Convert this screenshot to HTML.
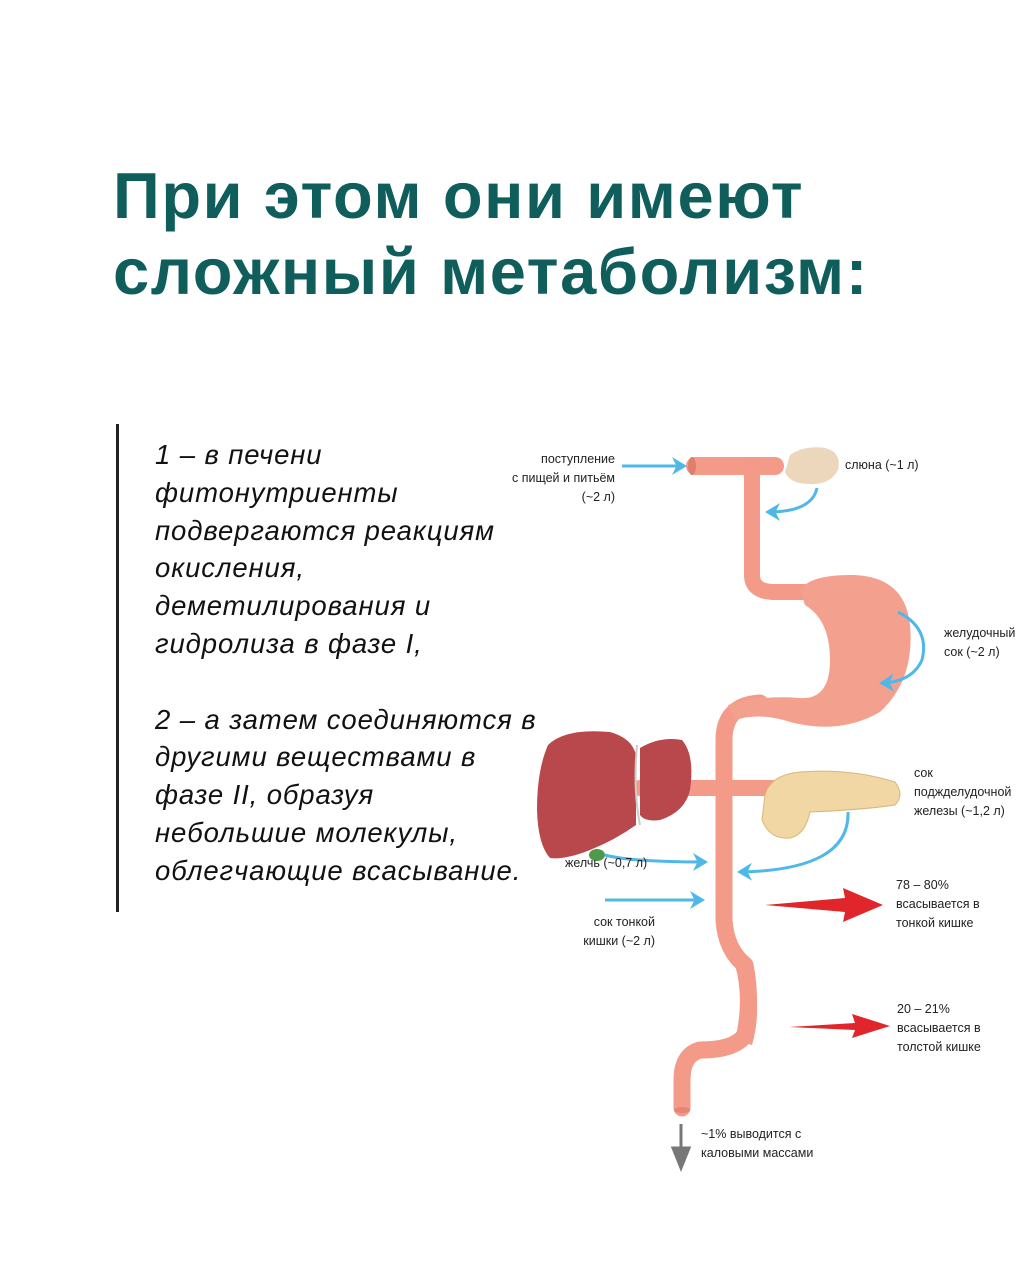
<!DOCTYPE html>
<html><head><meta charset="utf-8"><style>
html,body{margin:0;padding:0;background:#fff;}
body{width:1024px;height:1280px;position:relative;overflow:hidden;font-family:"Liberation Sans",sans-serif;}
h1{position:absolute;left:113px;top:158px;margin:0;font-size:65px;line-height:76px;font-weight:bold;color:#0f5e5c;letter-spacing:1.6px;}
.bar{position:absolute;left:116px;top:424px;width:3px;height:488px;background:#222;}
.txt{position:absolute;left:155px;top:436px;font-size:27.5px;line-height:37.8px;font-style:italic;color:#111;letter-spacing:0.9px;}
svg{position:absolute;left:0;top:0;}
svg text{font-family:"Liberation Sans",sans-serif;font-size:12.5px;fill:#222;}
</style></head><body>
<h1>При этом они имеют<br>сложный метаболизм:</h1>
<div class="bar"></div>
<div class="txt">1 – в печени<br>фитонутриенты<br>подвергаются реакциям<br>окисления,<br>деметилирования и<br>гидролиза в фазе I,<br><br>2 – а затем соединяются в<br>другими веществами в<br>фазе II, образуя<br>небольшие молекулы,<br>облегчающие всасывание.</div>
<svg width="1024" height="1280" viewBox="0 0 1024 1280">
<defs>
<marker id="bl" markerWidth="6" markerHeight="6" refX="4" refY="3" orient="auto" markerUnits="strokeWidth"><path d="M0,0 L5,3 L0,6 L1.5,3Z" fill="#4fb8e8"/></marker>
</defs>
<g fill="none" stroke="#f39a88" stroke-linecap="round" stroke-linejoin="round">
<path d="M695,466 H775" stroke-width="18"/>
<path d="M752,466 V575 Q752,592 775,592 H815" stroke-width="16"/>
<path d="M640,788 H790" stroke-width="16"/>
<path d="M760,703 Q724,705 724,740 V920 Q726,950 745,965 Q752,1000 745,1035 Q735,1050 700,1050 Q682,1055 682,1080 V1108" stroke-width="17"/>
</g>
<path d="M745,955 Q765,1000 752,1045 L735,1040 Q745,1000 735,965Z" fill="#f39a88"/>
<path d="M800,590 Q810,575 850,575 Q905,575 910,625 Q915,680 880,712 Q840,735 790,722 Q760,712 735,720 L728,705 Q760,695 800,698 Q830,700 830,660 Q830,620 805,605Z" fill="#f4a08e"/>
<ellipse cx="692" cy="466" rx="4" ry="9" fill="#e07e6c"/>
<ellipse cx="682" cy="1110" rx="8" ry="3" fill="#e58575"/>
<path d="M790,455 Q805,445 825,448 Q842,452 838,470 Q830,485 810,484 Q790,484 785,472Z" fill="#ecd6bc"/>
<path d="M548,745 Q565,728 610,732 Q632,738 636,755 L636,825 Q615,840 590,850 Q565,860 550,858 Q538,845 537,810 Q537,770 548,745Z" fill="#b8484c"/>
<path d="M640,748 Q660,736 682,740 Q695,755 690,790 Q685,812 660,820 Q645,822 640,815Z" fill="#b8484c"/>
<path d="M637,745 Q633,790 640,825" stroke="#ccc" stroke-width="2" fill="none"/>
<ellipse cx="597" cy="855" rx="8" ry="6" fill="#4c9a4a"/>
<path d="M765,795 Q770,775 800,772 Q850,768 895,782 Q905,795 895,805 Q860,810 810,812 Q805,835 790,838 Q770,840 762,820Z" fill="#f0d7a4" stroke="#d9b677" stroke-width="1"/>
<g stroke="#4fb8e8" stroke-width="3" fill="none" marker-end="url(#bl)">
<path d="M622,466 H684"/>
<path d="M817,488 Q812,512 768,512"/>
<path d="M898,612 Q930,628 922,660 Q912,682 882,683"/>
<path d="M605,855 Q630,862 705,862"/>
<path d="M848,812 Q850,870 740,872"/>
<path d="M605,900 H702"/>
</g>
<path d="M765,905 L845,898 L843,888 L883,905 L843,922 L845,912Z" fill="#e0262a"/>
<path d="M789,1027 L855,1023 L852,1014 L890,1026 L852,1038 L855,1030Z" fill="#e0262a"/>
<path d="M681,1124 V1150 M673,1148 L681,1168 L689,1148Z" stroke="#777" stroke-width="3" fill="#777"/>
<text x="615" y="463" text-anchor="end">поступление</text>
<text x="615" y="482" text-anchor="end">с пищей и питьём</text>
<text x="615" y="501" text-anchor="end">(~2 л)</text>
<text x="845" y="469">слюна (~1 л)</text>
<text x="944" y="637">желудочный</text>
<text x="944" y="656">сок (~2 л)</text>
<text x="914" y="777">сок</text>
<text x="914" y="796">поджделудочной</text>
<text x="914" y="815">железы (~1,2 л)</text>
<text x="565" y="867">желчь (~0,7 л)</text>
<text x="655" y="926" text-anchor="end">сок тонкой</text>
<text x="655" y="945" text-anchor="end">кишки (~2 л)</text>
<text x="896" y="889">78 – 80%</text>
<text x="896" y="908">всасывается в</text>
<text x="896" y="927">тонкой кишке</text>
<text x="897" y="1013">20 – 21%</text>
<text x="897" y="1032">всасывается в</text>
<text x="897" y="1051">толстой кишке</text>
<text x="701" y="1138">~1% выводится с</text>
<text x="701" y="1157">каловыми массами</text>
</svg>
</body></html>
